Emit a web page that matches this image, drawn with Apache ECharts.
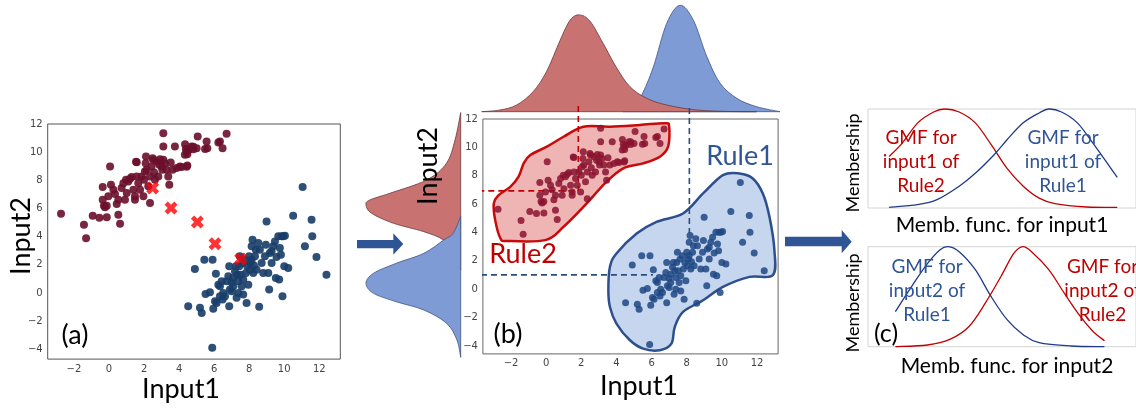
<!DOCTYPE html>
<html><head><meta charset="utf-8">
<script src="https://cdn.jsdelivr.net/npm/echarts@6/dist/echarts.min.js"></script>
<style>html,body{margin:0;padding:0;background:#fff;}#c{width:1136px;height:409px;}</style>
</head><body><div id="c"></div>
<script>
// ---- data ----
const redPoints = [[-2.74,5.63],[-1.43,4.85],[-1.31,3.88],[-0.93,5.48],[-0.55,5.34],[-0.13,5.37],[0.06,8.98],[-0.36,7.52],[-0.36,6.62],[-0.29,6.19],[-0.23,6.08],[-0.13,6.19],[-0.04,6.86],[0.11,7.68],[0.25,7.33],[0.34,7.02],[0.44,6.31],[0.53,6.62],[0.63,4.92],[0.53,5.56],[0.72,7.45],[0.82,7.80],[0.91,6.62],[0.97,8.04],[1.01,7.09],[1.10,7.92],[1.20,8.11],[1.29,8.23],[1.39,7.33],[1.48,6.86],[1.48,6.62],[1.58,8.27],[1.58,9.29],[1.67,7.80],[1.77,7.33],[1.86,8.27],[1.96,6.86],[2.00,8.04],[2.05,8.63],[2.09,9.22],[2.11,9.69],[2.15,8.75],[2.24,7.57],[2.34,6.38],[2.34,8.27],[2.43,8.98],[2.53,9.46],[2.57,8.56],[2.62,8.04],[2.72,9.34],[2.81,8.27],[2.87,9.10],[2.91,9.50],[3.00,8.98],[3.04,8.75],[3.10,9.46],[3.10,10.40],[3.10,11.35],[3.19,9.22],[3.29,8.75],[3.38,8.27],[3.44,7.68],[3.52,9.27],[3.63,8.75],[3.76,10.40],[3.86,8.87],[4.05,8.98],[4.14,8.94],[4.33,9.81],[4.43,10.05],[4.47,9.05],[4.56,10.17],[4.71,10.40],[4.81,10.21],[5.00,10.28],[5.06,11.11],[5.57,10.76],[5.61,10.28],[6.24,10.69],[6.33,10.76],[6.48,10.28],[6.71,11.30],[4.34,10.56],[4.39,10.22],[4.81,10.39],[4.47,9.85],[5.48,10.22],[1.54,9.32],[2.49,9.56],[4.43,8.97]];
const bluePoints = [[4.52,-0.95],[5.29,-1.42],[4.90,1.70],[5.44,2.36],[5.51,-0.07],[5.76,0.05],[5.91,2.36],[5.95,-1.13],[6.05,-0.59],[6.14,-0.71],[6.10,1.37],[6.24,0.59],[6.33,0.47],[6.33,-0.24],[6.43,0.83],[6.52,0.00],[6.48,-0.47],[6.62,-0.24],[6.71,0.83],[6.81,1.18],[6.86,1.89],[6.86,-0.95],[6.90,0.24],[7.00,0.76],[7.00,0.12],[7.09,1.06],[7.09,0.47],[7.19,1.54],[7.24,1.89],[7.28,-0.35],[7.32,1.30],[7.38,0.83],[7.38,0.00],[7.43,1.89],[7.47,2.60],[7.51,1.30],[7.57,0.47],[7.62,2.13],[7.66,0.95],[7.66,-0.12],[7.76,2.36],[7.81,1.42],[7.85,-0.71],[7.89,1.89],[7.95,0.59],[8.00,2.60],[8.04,1.65],[8.08,2.13],[8.14,2.36],[8.14,3.31],[8.19,3.78],[8.23,1.42],[8.27,1.94],[8.33,2.60],[8.38,3.07],[8.42,1.65],[8.52,3.55],[8.61,3.07],[8.57,-0.99],[8.71,2.13],[8.80,1.42],[8.90,2.60],[8.95,3.43],[8.99,5.08],[9.09,1.42],[9.14,0.24],[9.18,2.84],[9.28,2.13],[9.28,2.96],[9.37,3.31],[9.47,3.66],[9.52,1.06],[9.56,2.55],[9.66,4.02],[9.71,0.95],[9.75,3.19],[9.81,2.72],[9.85,4.02],[9.90,-0.24],[9.94,4.02],[10.00,1.89],[10.04,4.07],[10.23,1.77],[10.51,5.48],[11.05,7.52],[11.18,3.31],[11.56,5.20],[11.60,4.02],[11.84,2.55],[12.41,1.30],[5.89,-3.90],[5.19,-1.06]];
const centroids = [[2.49,7.45],[3.54,6.03],[5.04,5.04],[6.05,3.50],[7.51,2.41]];

const redHull = [[-2.98,6.05],[-2.9,4.87],[-2.6,3.58],[-2.2,3.4],[-0.05,3.46],[0.99,4.4],[2.12,5.8],[3.44,7.58],[4.39,8.52],[5.52,8.87],[6.47,9.34],[6.94,10.05],[7.0,11.46],[6.75,11.7],[5.33,11.58],[3.63,11.46],[2.12,11.46],[0.99,10.75],[0.04,10.05],[-0.9,9.46],[-1.28,8.87],[-1.57,7.93],[-2.04,7.22],[-2.7,6.64]];
const blueHull = [[3.54,-0.07],[3.63,1.58],[4.0,2.52],[5.15,3.93],[6.28,4.75],[7.79,5.34],[8.93,6.75],[10.06,8.05],[11.0,8.16],[11.76,7.81],[12.33,6.75],[12.71,5.1],[12.99,2.75],[12.9,0.99],[11.57,0.87],[10.06,0.16],[8.93,-0.78],[7.79,-1.6],[7.32,-2.66],[7.13,-3.84],[6.47,-4.3],[5.52,-4.19],[4.77,-3.6],[4.0,-2.42],[3.63,-1.25]];

// marginal densities: top [input1, density], left [density, input2]
const topRed = [[-3.67,0],[-2.63,0.016],[-1.68,0.063],[-0.73,0.19],[0.03,0.38],[0.79,0.67],[1.36,0.86],[1.89,0.91],[2.50,0.85],[3.25,0.64],[4.02,0.41],[4.77,0.235],[5.72,0.126],[6.86,0.063],[8.57,0.016],[10.46,0.002],[11.98,0]];
const topBlue = [[4.39,0],[4.96,0.047],[5.44,0.157],[6.10,0.42],[6.86,0.83],[7.62,1.0],[8.38,0.86],[9.14,0.52],[9.89,0.27],[10.85,0.126],[11.98,0.047],[13.31,0]];
const leftRed = [[0,12.45],[0.06,10.52],[0.15,8.88],[0.36,7.70],[0.75,6.76],[0.96,6.29],[1.0,5.94],[0.94,5.35],[0.71,4.65],[0.39,4.06],[0.18,3.47],[0.06,2.53],[0,1.36]];
const leftBlue = [[0,5.12],[0.08,3.94],[0.18,3.47],[0.39,2.53],[0.68,1.83],[0.92,1.13],[1.0,0.42],[0.92,-0.29],[0.68,-0.88],[0.39,-1.46],[0.15,-2.40],[0.04,-3.57],[0,-4.8]];

// rule centre guides (dashed)
const guideRedH = [[-5.0,6.93],[1.83,6.93]];
const guideRedV = [[1.83,12.92],[1.83,6.93]];
const guideBlueH = [[-4.28,1.01],[6.08,1.01]];
const guideBlueV = [[8.15,12.78],[8.15,3.97]];

// membership functions (c)
const mf1Red = [[8.09,0.52],[12.99,0.65],[19.1,0.86],[25.2,0.97],[29.5,1.0],[35.0,0.97],[41.2,0.86],[47.3,0.64],[53.4,0.40],[59.6,0.22],[65.7,0.10],[71.8,0.044],[84.1,0.01],[95.7,0.007]];
const mf1Blue = [[8.09,0.007],[19.1,0.034],[26.5,0.084],[35.0,0.22],[41.2,0.35],[48.5,0.54],[53.4,0.69],[59.6,0.86],[65.7,0.96],[69.4,1.0],[74.3,0.97],[80.4,0.86],[86.5,0.65],[91.4,0.47],[95.7,0.31]];
const mf2Blue = [[10.5,0.35],[16.7,0.6],[22.8,0.83],[27.7,0.97],[30.8,1.0],[35.0,0.95],[41.2,0.77],[47.3,0.5],[53.4,0.27],[59.6,0.12],[65.7,0.04],[77.9,0.007],[90.8,0]];
const mf2Red = [[10.5,0],[22.8,0.017],[31.4,0.073],[38.7,0.2],[44.9,0.43],[51.0,0.7],[55.9,0.93],[59.5,1.0],[63.2,0.94],[69.4,0.77],[75.5,0.53],[81.6,0.3],[86.5,0.15],[90.8,0.06]];

const tickX = [-2,0,2,4,6,8,10,12];
const tickY = [-4,-2,0,2,4,6,8,10,12];

// ---- helpers ----
function smoothPath(pts, closed, close){
  const n = pts.length;
  const get = i => closed ? pts[(i+n)%n] : pts[Math.max(0, Math.min(n-1, i))];
  let d = 'M' + pts[0][0] + ',' + pts[0][1];
  const segs = closed ? n : n-1;
  for (let i=0;i<segs;i++){
    const p0=get(i-1), p1=get(i), p2=get(i+1), p3=get(i+2);
    const c1=[p1[0]+(p2[0]-p0[0])/6, p1[1]+(p2[1]-p0[1])/6];
    const c2=[p2[0]-(p3[0]-p1[0])/6, p2[1]-(p3[1]-p1[1])/6];
    d += ' C' + c1[0]+','+c1[1]+' '+c2[0]+','+c2[1]+' '+p2[0]+','+p2[1];
  }
  return close ? d + ' Z' : d;
}
function shapeSeries(name, data, xi, yi, closed, fill, stroke, lw, z, open){
  return {type:'custom', name, xAxisIndex:xi, yAxisIndex:yi, z, silent:true,
    encode:{x:0,y:1}, data,
    renderItem(params, api){
      if (params.dataIndex !== 0) return null;
      const pts = data.map(p => api.coord(p));
      return {type:'path', shape:{pathData: smoothPath(pts, closed, !open)},
        style:{fill, stroke, lineWidth:lw}};
    }};
}
const minus = v => v < 0 ? '\u2212' + (-v) : String(v);
const tickFont = {fontFamily:'DejaVu Sans', fontSize:10, color:'#444'};
function valAxis(gi, min, max, labels, pos, extra){
  return Object.assign({type:'value', gridIndex:gi, min, max, position:pos,
    axisLine:{show:false}, axisTick:{show:false}, splitLine:{show:false},
    axisLabel: labels ? Object.assign({show:true, customValues:labels, formatter:minus, margin:5}, tickFont) : {show:false}
  }, extra||{});
}

const FONT = 'Lato, "Open Sans", sans-serif';
function txt(text, x, y, size, color, rot, lh){
  return {type:'text', x, y, rotation: rot||0, z:50,
    style:{text, font: size+'px '+FONT, fill: color, align:'center', verticalAlign:'middle', lineHeight: lh||size}};
}
const XSYM = 'path://M0,3 L3,0 L6,3 L9,0 L12,3 L9,6 L12,9 L9,12 L6,9 L3,12 L0,9 L3,6 Z';

const chart = echarts.init(document.getElementById('c'), null, {renderer:'canvas'});
chart.setOption({
  animation:false,
  backgroundColor:'#fff',
  grid:[
    {left:47.7, top:124, width:292.6, height:235.1, show:true, borderColor:'#555', borderWidth:1, backgroundColor:'#fff'},
    {left:482.9, top:119, width:295.2, height:234.9, show:true, borderColor:'#666', borderWidth:1, backgroundColor:'#fff'},
    {left:482.9, top:5.3, width:300.1, height:106.4},
    {left:366, top:104.8, width:94.7, height:255.4},
    {left:868, top:109, width:280, height:99, show:true, borderColor:'#d4d4d4', borderWidth:1},
    {left:868, top:246.7, width:280, height:100, show:true, borderColor:'#d4d4d4', borderWidth:1}
  ],
  xAxis:[
    valAxis(0,-3.5,13.2,tickX,'bottom'),
    valAxis(1,-3.6,13.2,tickX,'bottom'),
    valAxis(2,-3.6,13.48,null,'bottom'),
    valAxis(3,0,1.0,null,'bottom',{inverse:true}),
    valAxis(4,0,102.9,null,'bottom'),
    valAxis(5,0,102.9,null,'bottom')
  ],
  yAxis:[
    valAxis(0,-4.7,12,tickY,'left'),
    valAxis(1,-4.56,12,tickY,'left'),
    valAxis(2,0,1.0,null,'left'),
    valAxis(3,-5,13,null,'right'),
    valAxis(4,0,1.0,null,'left'),
    valAxis(5,0,1.0,null,'left')
  ],
  series:[
    // (a)
    {type:'scatter', xAxisIndex:0, yAxisIndex:0, data:redPoints, symbolSize:8, itemStyle:{color:'#6a0f2c', opacity:0.9}, z:3},
    {type:'scatter', xAxisIndex:0, yAxisIndex:0, data:bluePoints, symbolSize:8, itemStyle:{color:'#173d68', opacity:0.9}, z:3},
    {type:'scatter', xAxisIndex:0, yAxisIndex:0, data:centroids, symbol:XSYM, symbolSize:13, itemStyle:{color:'#ff0000'}, z:4},
    // (b) hulls
    shapeSeries('redHull', redHull, 1, 1, true, 'rgba(232,150,150,0.7)', '#c80a0a', 2.5, 1),
    shapeSeries('blueHull', blueHull, 1, 1, true, 'rgba(175,196,232,0.7)', '#2d4f8e', 2.5, 1),
    {type:'line', xAxisIndex:1, yAxisIndex:1, data:guideRedH, clip:false, symbol:'none', lineStyle:{color:'#c00000', width:1.6, type:[6,4]}, z:2},
    {type:'line', xAxisIndex:1, yAxisIndex:1, data:guideRedV, clip:false, symbol:'none', lineStyle:{color:'#c00000', width:1.6, type:[6,4]}, z:2},
    {type:'line', xAxisIndex:1, yAxisIndex:1, data:guideBlueH, clip:false, symbol:'none', lineStyle:{color:'#2b4f7c', width:1.6, type:[6,4]}, z:2},
    {type:'line', xAxisIndex:1, yAxisIndex:1, data:guideBlueV, clip:false, symbol:'none', lineStyle:{color:'#2b4f7c', width:1.6, type:[6,4]}, z:2},
    {type:'scatter', xAxisIndex:1, yAxisIndex:1, data:redPoints, symbolSize:7, itemStyle:{color:'#8a1430', opacity:0.85}, z:3},
    {type:'scatter', xAxisIndex:1, yAxisIndex:1, data:bluePoints, symbolSize:7, itemStyle:{color:'#1e4884', opacity:0.85}, z:3},
    // marginals
    shapeSeries('topBlue', topBlue, 2, 2, false, '#7f9bd6', '#3e5580', 0.8, 1),
    shapeSeries('topRed', topRed, 2, 2, false, '#c87272', '#6a3a3a', 0.8, 2),
    shapeSeries('leftRed', leftRed, 3, 3, false, '#c87272', '#6a3a3a', 0.8, 1),
    shapeSeries('leftBlue', leftBlue, 3, 3, false, '#7f9bd6', '#3e5580', 0.8, 2),
    // (c)
    shapeSeries('mf1Red', mf1Red, 4, 4, false, 'none', '#c00000', 1.3, 2, true),
    shapeSeries('mf1Blue', mf1Blue, 4, 4, false, 'none', '#1f3a8a', 1.3, 2, true),
    shapeSeries('mf2Blue', mf2Blue, 5, 5, false, 'none', '#1f3a8a', 1.3, 2, true),
    shapeSeries('mf2Red', mf2Red, 5, 5, false, 'none', '#c00000', 1.3, 2, true)
  ],
  graphic:[
    txt('Input2', 21, 236, 27, '#000', Math.PI/2),
    txt('Input1', 181, 389, 27, '#000'),
    txt('(a)', 75, 335, 27, '#000'),
    txt('Input2', 428, 166, 27, '#000', Math.PI/2),
    txt('Input1', 639, 386, 27, '#000'),
    txt('Rule2', 523, 254, 27, '#c00000'),
    txt('Rule1', 740, 156, 27, '#2f5597'),
    txt('(b)', 508, 334, 27, '#000'),
    txt('Membership', 853, 163, 18, '#000', Math.PI/2),
    txt('Membership', 853, 303, 18, '#000', Math.PI/2),
    txt('Memb. func. for input1', 1002, 225, 21, '#000'),
    txt('Memb. func. for input2', 1007, 366, 21, '#000'),
    txt('GMF for\ninput1 of\nRule2', 921, 162, 19, '#c00000', 0, 24),
    txt('GMF for\ninput1 of\nRule1', 1063, 162, 19, '#2f5597', 0, 24),
    txt('GMF for\ninput2 of\nRule1', 927, 291, 19, '#2f5597', 0, 24),
    txt('GMF for\ninput2 of\nRule2', 1102.5, 291, 19, '#c00000', 0, 24),
    txt('(c)', 886, 334, 25, '#000'),
    {type:'polygon', z:50, shape:{points:[[357,240],[393.3,240],[393.3,233.3],[403.3,244],[393.3,254.7],[393.3,248.3],[357,248.3]]}, style:{fill:'#2f5597'}},
    {type:'polygon', z:50, shape:{points:[[785,236.7],[841.7,236.7],[841.7,230],[851.7,241.7],[841.7,253.3],[841.7,246.3],[785,246.3]]}, style:{fill:'#2f5597'}}
  ]
});
</script></body></html>
